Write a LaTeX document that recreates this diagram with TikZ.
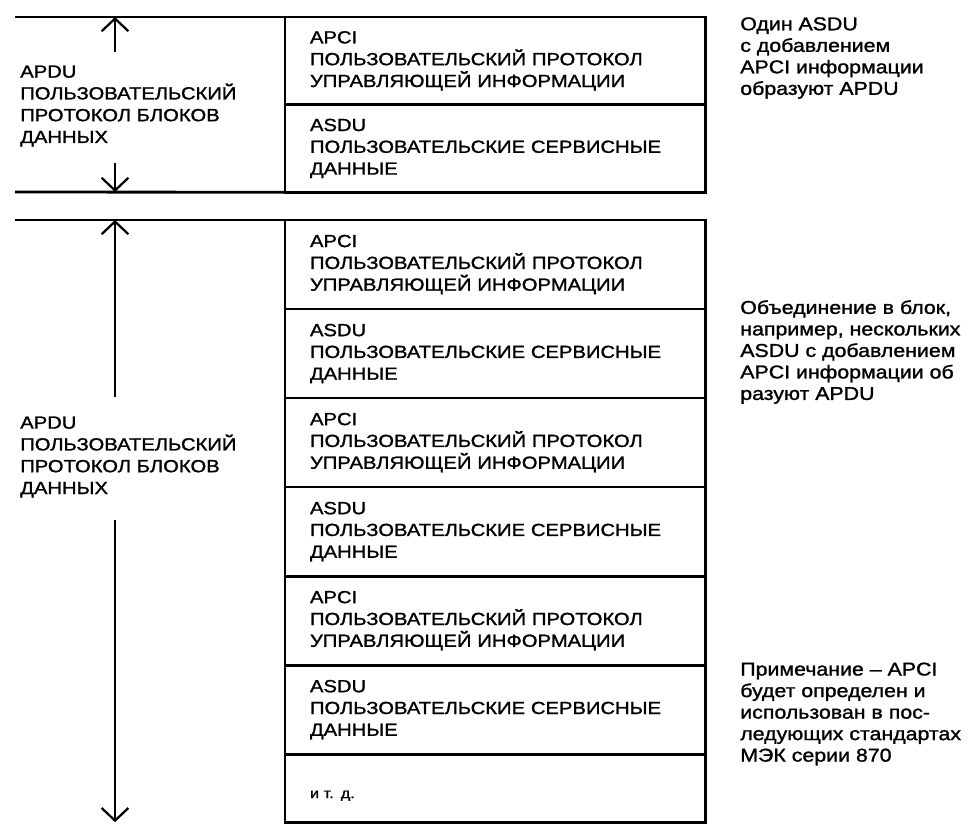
\documentclass[tikz,border=0pt]{standalone}
\usepackage{fontspec}
\setmainfont{Liberation Sans}[FakeStretch=1.15,FakeBold=1.3]
\usetikzlibrary{positioning,arrows.meta}

\tikzset{
	blk/.style={draw, rectangle, line width=2pt, outer sep=0pt, anchor=north west,
		minimum height=2.225cm, text width=9.25cm, inner xsep=0.625cm, align=left,
		font=\fontsize{12.5}{15.5}\selectfont},
	lbl/.style={align=left, inner sep=0pt, anchor=west,
		font=\fontsize{12.5}{15.5}\selectfont},
	notetxt/.style={lbl, font=\fontsize{13.2}{15.3}\selectfont},
	rule/.style={line width=2pt},
	dim/.style={line width=1.6pt, -{Straight Barb[length=9pt,width=19pt,line width=1.6pt]}}
}

\begin{document}
\begin{tikzpicture}[x=0.025cm,y=-0.025cm]
	\useasboundingbox (0,0) rectangle (971,825);

	% one ASDU
	\node[blk, minimum height=2.19cm] (ci1) at (285,17)
		{APCI\\ПОЛЬЗОВАТЕЛЬСКИЙ ПРОТОКОЛ\\УПРАВЛЯЮЩЕЙ ИНФОРМАЦИИ};
	\node[blk, minimum height=2.19cm, below=0pt of ci1] (sd1)
		{ASDU\\ПОЛЬЗОВАТЕЛЬСКИЕ СЕРВИСНЫЕ\\ДАННЫЕ};

	\coordinate (l1) at (15,17);
	\coordinate (l2) at (15,192);
	\draw[rule] (l1) -- (ci1.north west);
	\draw[rule] (l2) -- (sd1.south west);

	\node[lbl] (apdu1) at (20,106) {APDU\\ПОЛЬЗОВАТЕЛЬСКИЙ\\ПРОТОКОЛ БЛОКОВ\\ДАННЫХ};
	\coordinate (u1) at (115,52);
	\coordinate (d1) at (115,163);
	\draw[dim] (u1) -- (u1 |- l1);
	\draw[dim] (d1) -- (d1 |- l2);

	\node[notetxt] (note1) at (740,58) {Один ASDU\\с добавлением\\APCI информации\\образуют APDU};

	% several ASDU
	\node[blk] (ci2) at (285,220)
		{APCI\\ПОЛЬЗОВАТЕЛЬСКИЙ ПРОТОКОЛ\\УПРАВЛЯЮЩЕЙ ИНФОРМАЦИИ};
	\node[blk, below=0pt of ci2] (sd2)
		{ASDU\\ПОЛЬЗОВАТЕЛЬСКИЕ СЕРВИСНЫЕ\\ДАННЫЕ};
	\node[blk, below=0pt of sd2] (ci3)
		{APCI\\ПОЛЬЗОВАТЕЛЬСКИЙ ПРОТОКОЛ\\УПРАВЛЯЮЩЕЙ ИНФОРМАЦИИ};
	\node[blk, below=0pt of ci3] (sd3)
		{ASDU\\ПОЛЬЗОВАТЕЛЬСКИЕ СЕРВИСНЫЕ\\ДАННЫЕ};
	\node[blk, below=0pt of sd3] (ci4)
		{APCI\\ПОЛЬЗОВАТЕЛЬСКИЙ ПРОТОКОЛ\\УПРАВЛЯЮЩЕЙ ИНФОРМАЦИИ};
	\node[blk, below=0pt of ci4] (sd4)
		{ASDU\\ПОЛЬЗОВАТЕЛЬСКИЕ СЕРВИСНЫЕ\\ДАННЫЕ};
	\node[blk, below=0pt of sd4, minimum height=1.7cm, inner ysep=0pt,
		font=\fontsize{10}{12}\selectfont] (etc) {\\[4pt]и т. д.};

	\coordinate (l3) at (15,220);
	\draw[rule] (l3) -- (ci2.north west);

	\node[lbl] (apdu2) at (20,457) {APDU\\ПОЛЬЗОВАТЕЛЬСКИЙ\\ПРОТОКОЛ БЛОКОВ\\ДАННЫХ};
	\coordinate (u2) at (115,397);
	\coordinate (d2) at (115,520);
	\draw[dim] (u2) -- (u2 |- l3);
	\draw[dim] (d2) -- (d2 |- etc.south);

	\node[notetxt] (note2) at (740,352) {Объединение в блок,\\например, нескольких\\ASDU с добавлением\\APCI информации об\\разуют APDU};
	\node[notetxt] (note3) at (740,714) {Примечание -- APCI\\будет определен и\\использован в пос-\\ледующих стандартах\\МЭК серии 870};
\end{tikzpicture}
\end{document}
